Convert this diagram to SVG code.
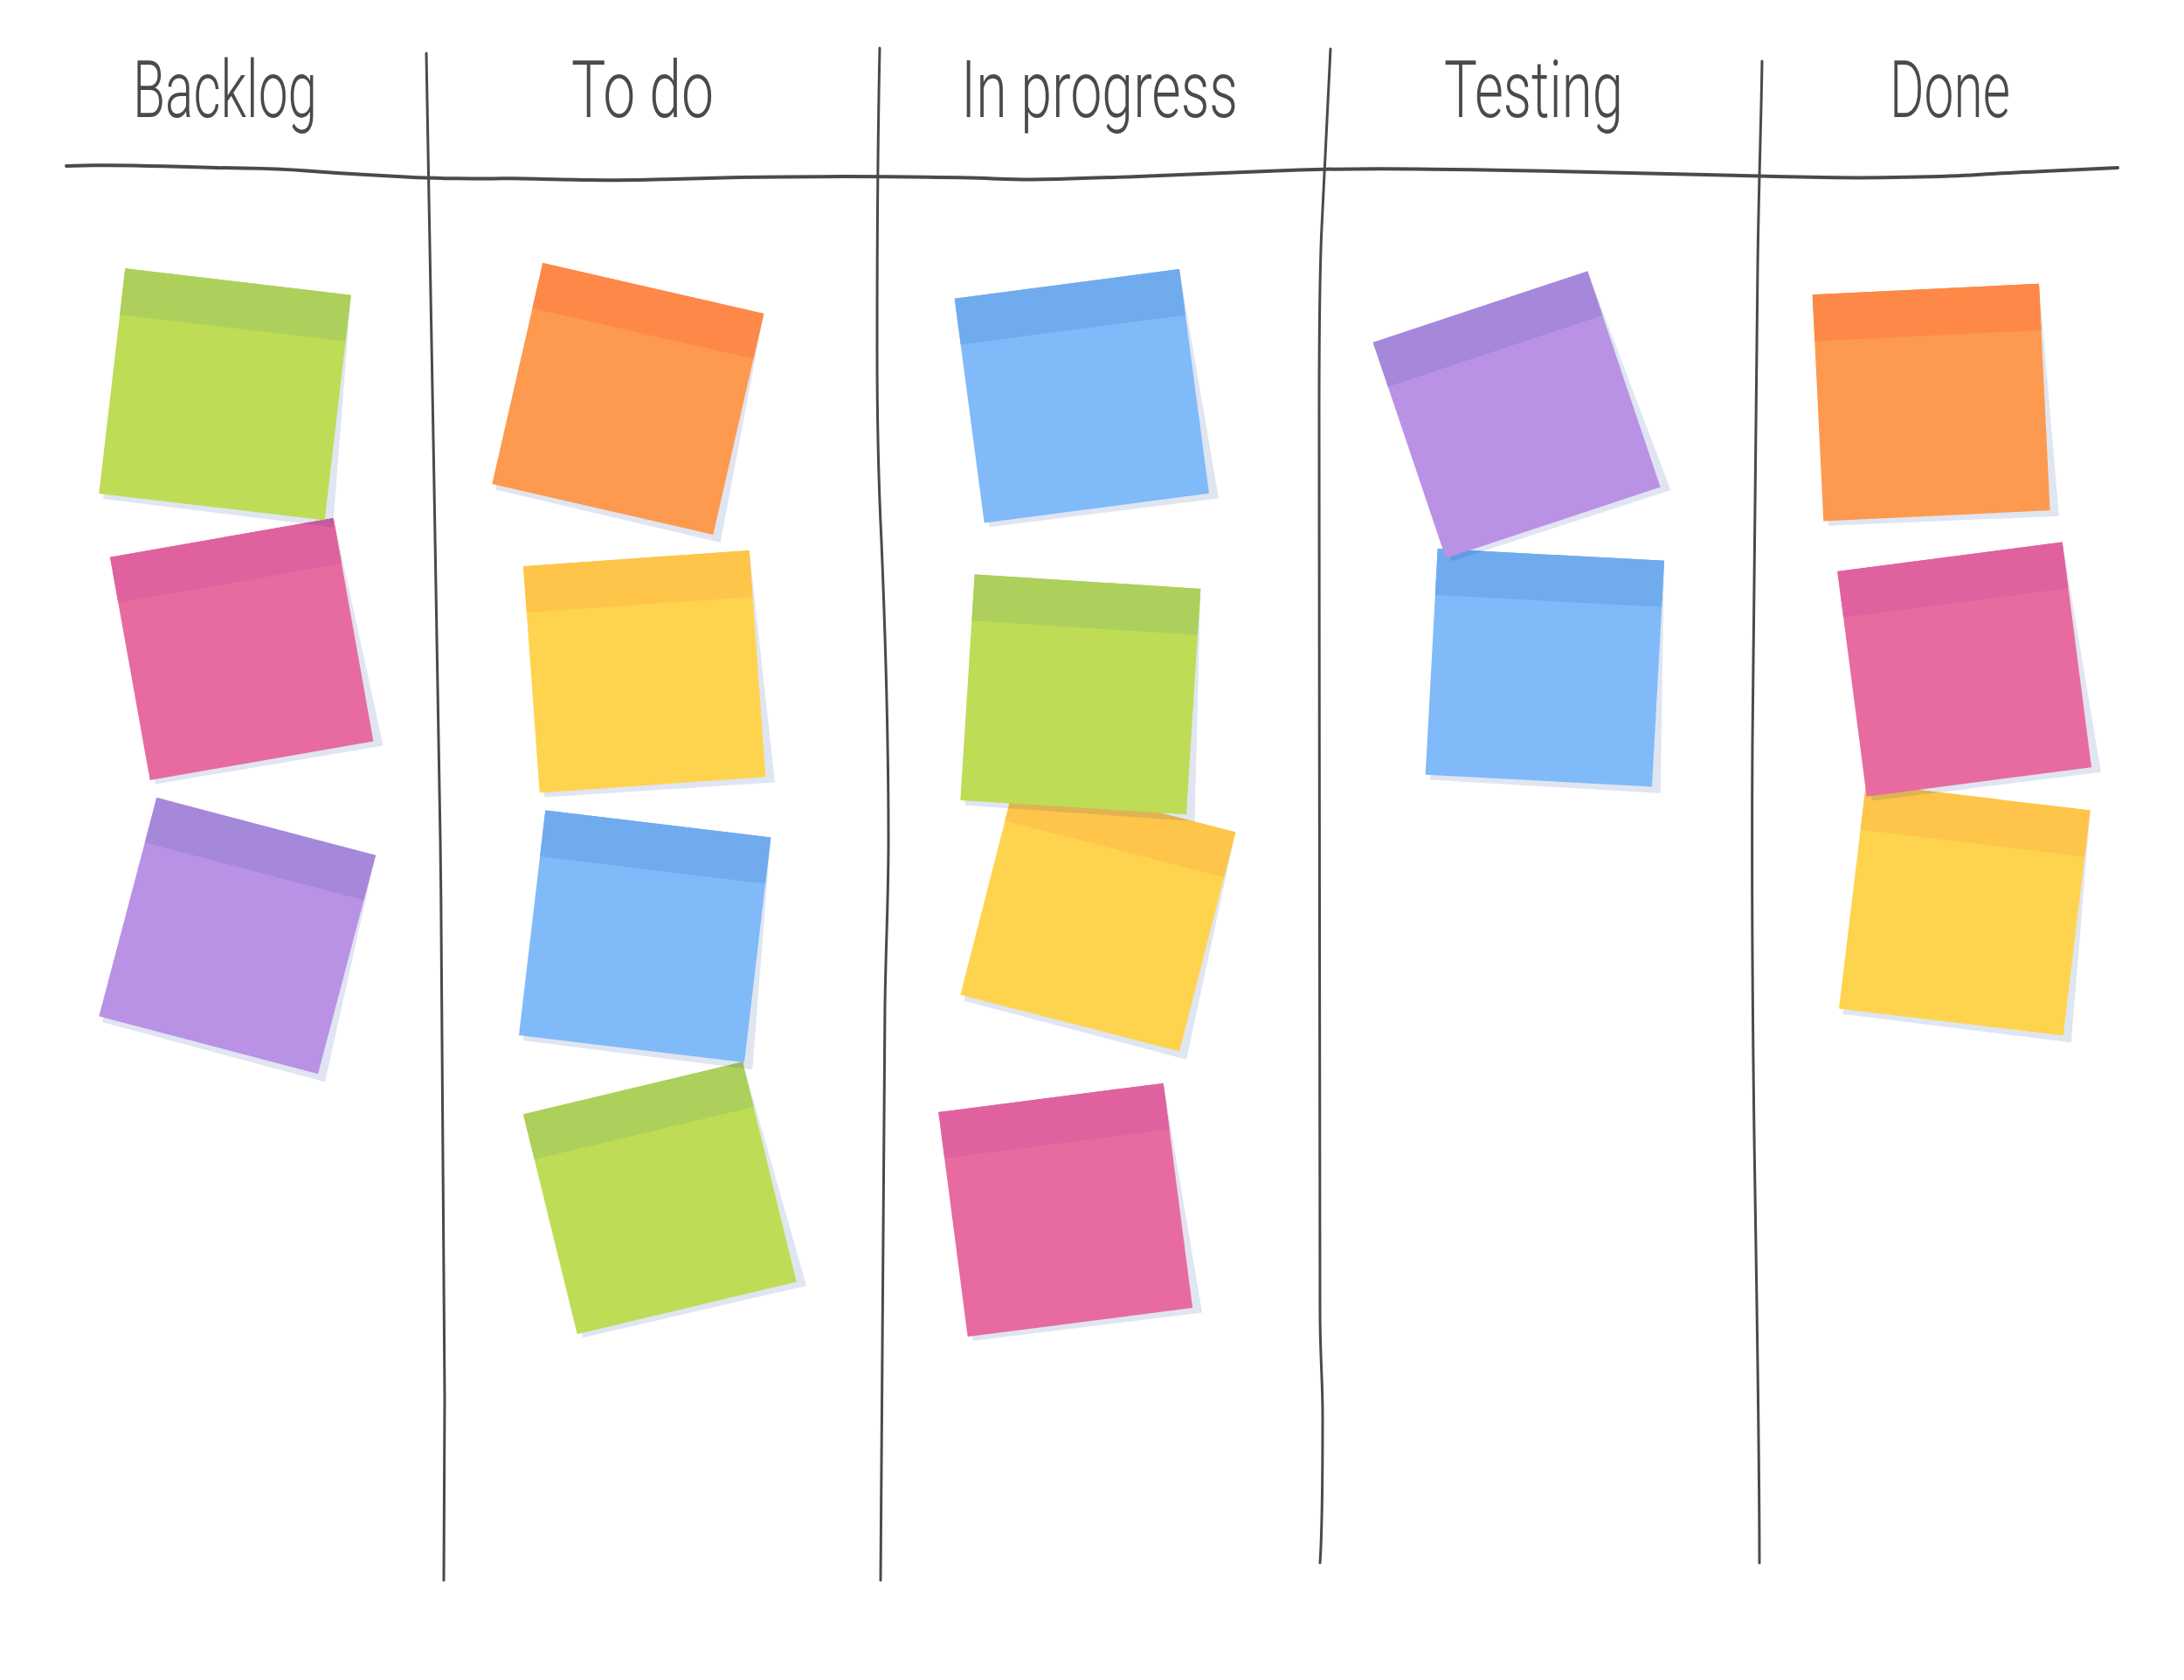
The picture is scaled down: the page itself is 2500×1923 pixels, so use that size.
<svg xmlns="http://www.w3.org/2000/svg" xmlns:xlink="http://www.w3.org/1999/xlink" width="2500" height="1923" viewBox="0 0 2500 1923">
<style>
.board{fill:none;stroke:#4a4a4a;stroke-linecap:round;stroke-linejoin:round}
.hline{stroke-width:4}
.vline{stroke-width:3}
.title{font-family:"Roboto","Liberation Sans","Noto Sans",sans-serif;font-weight:300;font-size:90px;fill:#4a4a4a}
.shadow{fill:#002896;fill-opacity:0.12}
.green{fill:#bedc56}.green-h{fill:#acd05b}
.pink{fill:#e76ba0}.pink-h{fill:#df629e}
.purple{fill:#b992e6}.purple-h{fill:#a688da}
.blue{fill:#80baf8}.blue-h{fill:#70abee}
.yellow{fill:#fed44f}.yellow-h{fill:#fec54a}
.orange{fill:#fd9a4f}.orange-h{fill:#fe8847}
</style>
<defs>
<polygon id="sh" points="0,0 100,0 103.9,102.7 2.1,102.1"/>
<polygon id="body" points="0,0 100,0 100,100 0,100"/>
<polygon id="band" points="0,0 100,0 100,20.5 0,20.5"/>
</defs>
<rect width="2500" height="1923" fill="#ffffff"/>
<g id="connectors">
<path class="board hline" d="M76,190 L106,189.35 Q136,188.7 187.5,190.35 Q239,192 279,192.5 Q319,193 351,195.5 Q383,198 415,199.85 Q447,201.7 468.5,202.85 Q490,204 524,204.35 Q558,204.7 574,204.35 Q590,204 614,204.65 Q638,205.3 678,206 Q718,206.7 757.5,205.35 Q797,204 837,203.15 Q877,202.3 941,202.15 Q1005,202 1060.5,202.65 Q1116,203.3 1144,204.65 Q1172,206 1211,205 Q1250,204 1315,201.5 Q1380,199 1449,196 Q1518,193 1583.5,193.15 Q1649,193.3 1768.5,195.8 Q1888,198.3 1952.5,200 Q2017,201.7 2072,202.85 Q2127,204 2183,202.85 Q2239,201.7 2263,200 Q2287,198.3 2355.5,195.15 L2424,192"/>
<path class="board vline" d="M488,61 C492,300 500,700 504,960 C507,1200 509,1450 509,1600 C509,1700 508,1760 508,1809"/>
<path class="board vline" d="M1007,55 C1005,150 1004,250 1004,400 C1004,500 1006,560 1009,620 C1014,740 1017,850 1017,960 C1017,1030 1014,1080 1013,1150 C1011,1300 1009,1500 1008,1809"/>
<path class="board vline" d="M1523,56 C1520,130 1516,200 1513,260 C1511,300 1510,400 1510,478 C1510,800 1511,1300 1511,1500 C1511,1550 1514,1580 1514,1620 C1514,1700 1513,1760 1511,1789"/>
<path class="board vline" d="M2017,70 C2016,140 2013,220 2012,303 C2010,500 2007,700 2006,850 C2005,1000 2006,1150 2008,1300 C2011,1500 2014,1650 2014,1789"/>
</g>
<g id="headers">
<text id="t-backlog" class="title" x="152" y="134" textLength="211" lengthAdjust="spacingAndGlyphs">Backlog</text>
<text id="t-todo" class="title" x="654" y="134" textLength="163" lengthAdjust="spacingAndGlyphs">To do</text>
<text id="t-inprogress" class="title" x="1100" y="134" textLength="317" lengthAdjust="spacingAndGlyphs">In progress</text>
<text id="t-testing" class="title" x="1653" y="134" textLength="205" lengthAdjust="spacingAndGlyphs">Testing</text>
<text id="t-done" class="title" x="2163" y="134" textLength="138" lengthAdjust="spacingAndGlyphs">Done</text>
</g>
<!-- Backlog -->
<g id="backlog-purple" transform="matrix(2.507,0.659,-0.66,2.502,179.3,913.1)"><use href="#sh" class="shadow"/><use href="#body" class="purple"/><use href="#band" class="purple-h"/></g>
<g id="backlog-pink" transform="matrix(2.557,-0.447,0.457,2.554,126,637.7)"><use href="#sh" class="shadow"/><use href="#body" class="pink"/><use href="#band" class="pink-h"/></g>
<g id="backlog-green" transform="matrix(2.584,0.304,-0.30,2.577,143.3,307.3)"><use href="#sh" class="shadow"/><use href="#body" class="green"/><use href="#band" class="green-h"/></g>
<!-- To do -->
<g id="todo-green" transform="matrix(2.51,-0.599,0.617,2.517,599,1275.4)"><use href="#sh" class="shadow"/><use href="#body" class="green"/><use href="#band" class="green-h"/></g>
<g id="todo-blue" transform="matrix(2.58,0.311,-0.303,2.575,624.3,927.5)"><use href="#sh" class="shadow"/><use href="#body" class="blue"/><use href="#band" class="blue-h"/></g>
<g id="todo-yellow" transform="matrix(2.587,-0.182,0.187,2.593,599,648.2)"><use href="#sh" class="shadow"/><use href="#body" class="yellow"/><use href="#band" class="yellow-h"/></g>
<g id="todo-orange" transform="matrix(2.53,0.58,-0.58,2.53,621.3,301)"><use href="#sh" class="shadow"/><use href="#body" class="orange"/><use href="#band" class="orange-h"/></g>
<!-- In progress -->
<g id="inprogress-pink" transform="matrix(2.574,-0.332,0.334,2.57,1074.3,1273.1)"><use href="#sh" class="shadow"/><use href="#body" class="pink"/><use href="#band" class="pink-h"/></g>
<g id="inprogress-yellow" transform="matrix(2.507,0.646,-0.643,2.508,1163.6,888)"><use href="#sh" class="shadow"/><use href="#body" class="yellow"/><use href="#band" class="yellow-h"/></g>
<g id="inprogress-green" transform="matrix(2.586,0.164,-0.164,2.584,1115.7,657.5)"><use href="#sh" class="shadow"/><use href="#body" class="green"/><use href="#band" class="green-h"/></g>
<g id="inprogress-blue" transform="matrix(2.573,-0.337,0.34,2.567,1092.7,341.8)"><use href="#sh" class="shadow"/><use href="#body" class="blue"/><use href="#band" class="blue-h"/></g>
<!-- Testing -->
<g id="testing-blue" transform="matrix(2.593,0.138,-0.14,2.587,1645.7,628)"><use href="#sh" class="shadow"/><use href="#body" class="blue"/><use href="#band" class="blue-h"/></g>
<g id="testing-purple" transform="matrix(2.456,-0.816,0.833,2.47,1571.7,392)"><use href="#sh" class="shadow"/><use href="#body" class="purple"/><use href="#band" class="purple-h"/></g>
<!-- Done -->
<g id="done-yellow" transform="matrix(2.567,0.306,-0.31,2.576,2136,897)"><use href="#sh" class="shadow"/><use href="#body" class="yellow"/><use href="#band" class="yellow-h"/></g>
<g id="done-pink" transform="matrix(2.574,-0.335,0.334,2.577,2103.3,654)"><use href="#sh" class="shadow"/><use href="#body" class="pink"/><use href="#band" class="pink-h"/></g>
<g id="done-orange" transform="matrix(2.593,-0.124,0.126,2.594,2074.7,337.2)"><use href="#sh" class="shadow"/><use href="#body" class="orange"/><use href="#band" class="orange-h"/></g>
</svg>
